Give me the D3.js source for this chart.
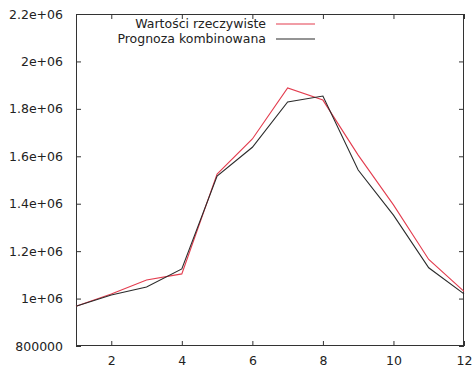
<!DOCTYPE html>
<html>
<head>
<meta charset="utf-8">
<script src="https://cdn.jsdelivr.net/npm/d3@7"></script>
<style>
  body { margin: 0; background: #fff; }
  text { font-family: "DejaVu Sans", sans-serif; font-size: 12.5px; fill: #222; }
</style>
</head>
<body>
<div id="chart"></div>
<script>
// dane
const miesiace = [1, 2, 3, 4, 5, 6, 7, 8, 9, 10, 11, 12];
const rzeczywiste = [968000, 1019000, 1078000, 1104000, 1525000, 1673000, 1888000, 1837000, 1605000, 1395000, 1165000, 1030000];
const prognoza = [968000, 1015000, 1049000, 1125000, 1517000, 1638000, 1829000, 1854000, 1542000, 1352000, 1130000, 1020000];
const xTicks = [2, 4, 6, 8, 10, 12];
const yTicks = [800000, 1000000, 1200000, 1400000, 1600000, 1800000, 2000000, 2200000];
const serie = [
    { nazwa: "Wartości rzeczywiste", wartosci: rzeczywiste, kolor: "#e33c4e" },
    { nazwa: "Prognoza kombinowana", wartosci: prognoza, kolor: "#2b2b2b" }
];

const width = 473;
const height = 367;
const mLeft = 76, mRight = 464, mTop = 14, mBottom = 346;

const svg = d3.select("#chart")
    .append("svg")
    .attr("width", width)
    .attr("height", height);

const xScale = d3.scaleLinear().domain([1, 12]).range([mLeft, mRight]);
const yScale = d3.scaleLinear().domain([800000, 2200000]).range([mBottom, mTop]);

function fmtY(v) {
    if (v === 800000) return "800000";
    const m = v / 1e6;
    return (Math.round(m * 10) / 10) + "e+06";
}

const tick = 5;

// osie z tickami do środka
svg.append("g")
    .attr("transform", `translate(0,${mBottom})`)
    .call(d3.axisBottom(xScale).tickValues(xTicks).tickSizeInner(-tick).tickSizeOuter(0).tickPadding(10))
    .call(g => g.select(".domain").remove());

svg.append("g")
    .attr("transform", `translate(0,${mTop})`)
    .call(d3.axisTop(xScale).tickValues(xTicks).tickSizeInner(-tick).tickSizeOuter(0).tickFormat(""))
    .call(g => g.select(".domain").remove());

svg.append("g")
    .attr("transform", `translate(${mLeft},0)`)
    .call(d3.axisLeft(yScale).tickValues(yTicks).tickSizeInner(-tick).tickSizeOuter(0).tickPadding(13).tickFormat(fmtY))
    .call(g => g.select(".domain").remove());

svg.append("g")
    .attr("transform", `translate(${mRight},0)`)
    .call(d3.axisRight(yScale).tickValues(yTicks).tickSizeInner(-tick).tickSizeOuter(0).tickFormat(""))
    .call(g => g.select(".domain").remove());

svg.selectAll(".tick line").attr("stroke", "#333");
svg.selectAll(".tick text").style("font-family", "DejaVu Sans").style("font-size", "12.5px").attr("fill", "#222");

svg.append("rect")
    .attr("x", mLeft + 0.5)
    .attr("y", mTop + 0.5)
    .attr("width", mRight - mLeft - 1)
    .attr("height", mBottom - mTop - 1)
    .attr("fill", "none")
    .attr("stroke", "#333");

const line = d3.line()
    .x((d, i) => xScale(miesiace[i]))
    .y(d => yScale(d));

svg.selectAll(".seria")
    .data(serie)
    .enter()
    .append("path")
    .attr("class", "seria")
    .attr("d", d => line(d.wartosci))
    .attr("fill", "none")
    .attr("stroke", d => d.kolor)
    .attr("stroke-width", 1.1);

// legenda
const legenda = svg.selectAll(".leg")
    .data(serie)
    .enter()
    .append("g")
    .attr("class", "leg")
    .attr("transform", (d, i) => `translate(0,${24 + i * 15})`);

legenda.append("text")
    .attr("x", 266)
    .attr("dy", "0.35em")
    .attr("text-anchor", "end")
    .text(d => d.nazwa);

legenda.append("line")
    .attr("x1", 276)
    .attr("x2", 315)
    .attr("stroke", d => d.kolor)
    .attr("stroke-width", 1.1);
</script>
</body>
</html>
